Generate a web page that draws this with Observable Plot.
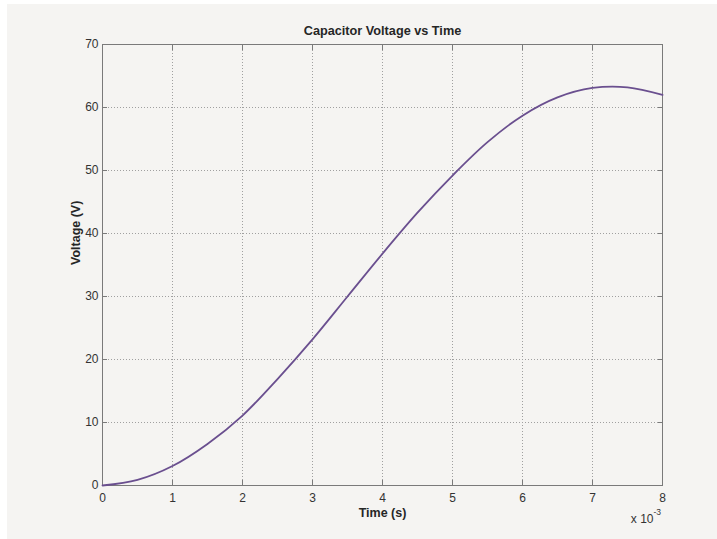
<!DOCTYPE html>
<html>
<head>
<meta charset="utf-8">
<script src="https://cdn.jsdelivr.net/npm/d3@7"></script>
<script src="https://cdn.jsdelivr.net/npm/@observablehq/plot@0.6"></script>
<style>
  html, body { margin: 0; padding: 0; background: #ffffff; width: 717px; height: 539px; overflow: hidden; }
  #chart { position: absolute; left: 7px; top: 4px; }
</style>
</head>
<body>
<div id="chart"></div>
<script>
// time in milliseconds (axis shows x 10^-3 s)
const timeMs = [0, 0.5, 1, 1.5, 2, 2.5, 3, 3.5, 4, 4.5, 5, 5.5, 6, 6.5, 7, 7.5, 8];
const voltage = [0, 0.9, 3.1, 6.6, 11.1, 16.9, 23.2, 30.0, 36.8, 43.3, 49.2, 54.5, 58.7, 61.6, 63.1, 63.2, 62.0];
const xTicks = [0, 1, 2, 3, 4, 5, 6, 7, 8];
const yTicks = [0, 10, 20, 30, 40, 50, 60, 70];
const titleText = "Capacitor Voltage vs Time";
const xLabel = "Time (s)";
const yLabel = "Voltage (V)";
const expBase = "x 10";
const expPow = "-3";

const data = timeMs.map((t, i) => ({t, v: voltage[i]}));
const gridX = xTicks.slice(1, -1);
const gridY = yTicks.slice(1, -1);

const font = "'Liberation Sans', Arial, sans-serif";
const axisColor = "#7a7a7a";
const textColor = "#333333";

const chart = Plot.plot({
  width: 710,
  height: 535,
  marginLeft: 95,
  marginRight: 55,
  marginTop: 40,
  marginBottom: 54,
  style: {background: "#f5f4f2", fontFamily: font, fontSize: "12px", color: textColor},
  x: {domain: [0, 8]},
  y: {domain: [0, 70]},
  marks: [
    Plot.gridX(gridX, {stroke: "#a0a0a0", strokeOpacity: 1, strokeDasharray: "1,2"}),
    Plot.gridY(gridY, {stroke: "#a0a0a0", strokeOpacity: 1, strokeDasharray: "1,2"}),
    Plot.axisX(xTicks, {anchor: "bottom", tickSize: -5, tickPadding: 13, label: null, stroke: axisColor, fill: textColor, fontSize: 12}),
    Plot.axisX(xTicks, {anchor: "top", tickSize: -5, label: null, tickFormat: () => "", stroke: axisColor}),
    Plot.axisY(yTicks, {anchor: "left", tickSize: -5, tickPadding: 9, label: null, stroke: axisColor, fill: textColor, fontSize: 12}),
    Plot.axisY(yTicks, {anchor: "right", tickSize: -5, label: null, tickFormat: () => "", stroke: axisColor}),
    Plot.frame({stroke: axisColor}),
    Plot.line(data, {x: "t", y: "v", stroke: "#6a4f8f", strokeWidth: 1.8, curve: "catmull-rom"}),
    Plot.text([titleText], {frameAnchor: "top", dy: -14, lineAnchor: "middle", fontWeight: "bold", fontSize: 12.7, fill: "#262626"}),
    Plot.text([xLabel], {frameAnchor: "bottom", dy: 27, lineAnchor: "middle", fontWeight: "bold", fontSize: 12.5, fill: "#262626"}),
    Plot.text([yLabel], {frameAnchor: "left", dx: -27, rotate: -90, lineAnchor: "middle", fontWeight: "bold", fontSize: 12.5, fill: "#262626"}),
    Plot.text([expBase], {frameAnchor: "bottom-right", dx: -9, dy: 34, textAnchor: "end", lineAnchor: "middle", fontSize: 12, fill: textColor}),
    Plot.text([expPow], {frameAnchor: "bottom-right", dx: -9, dy: 27, textAnchor: "start", lineAnchor: "middle", fontSize: 8.5, fill: textColor})
  ]
});
document.getElementById("chart").appendChild(chart);
</script>
</body>
</html>
